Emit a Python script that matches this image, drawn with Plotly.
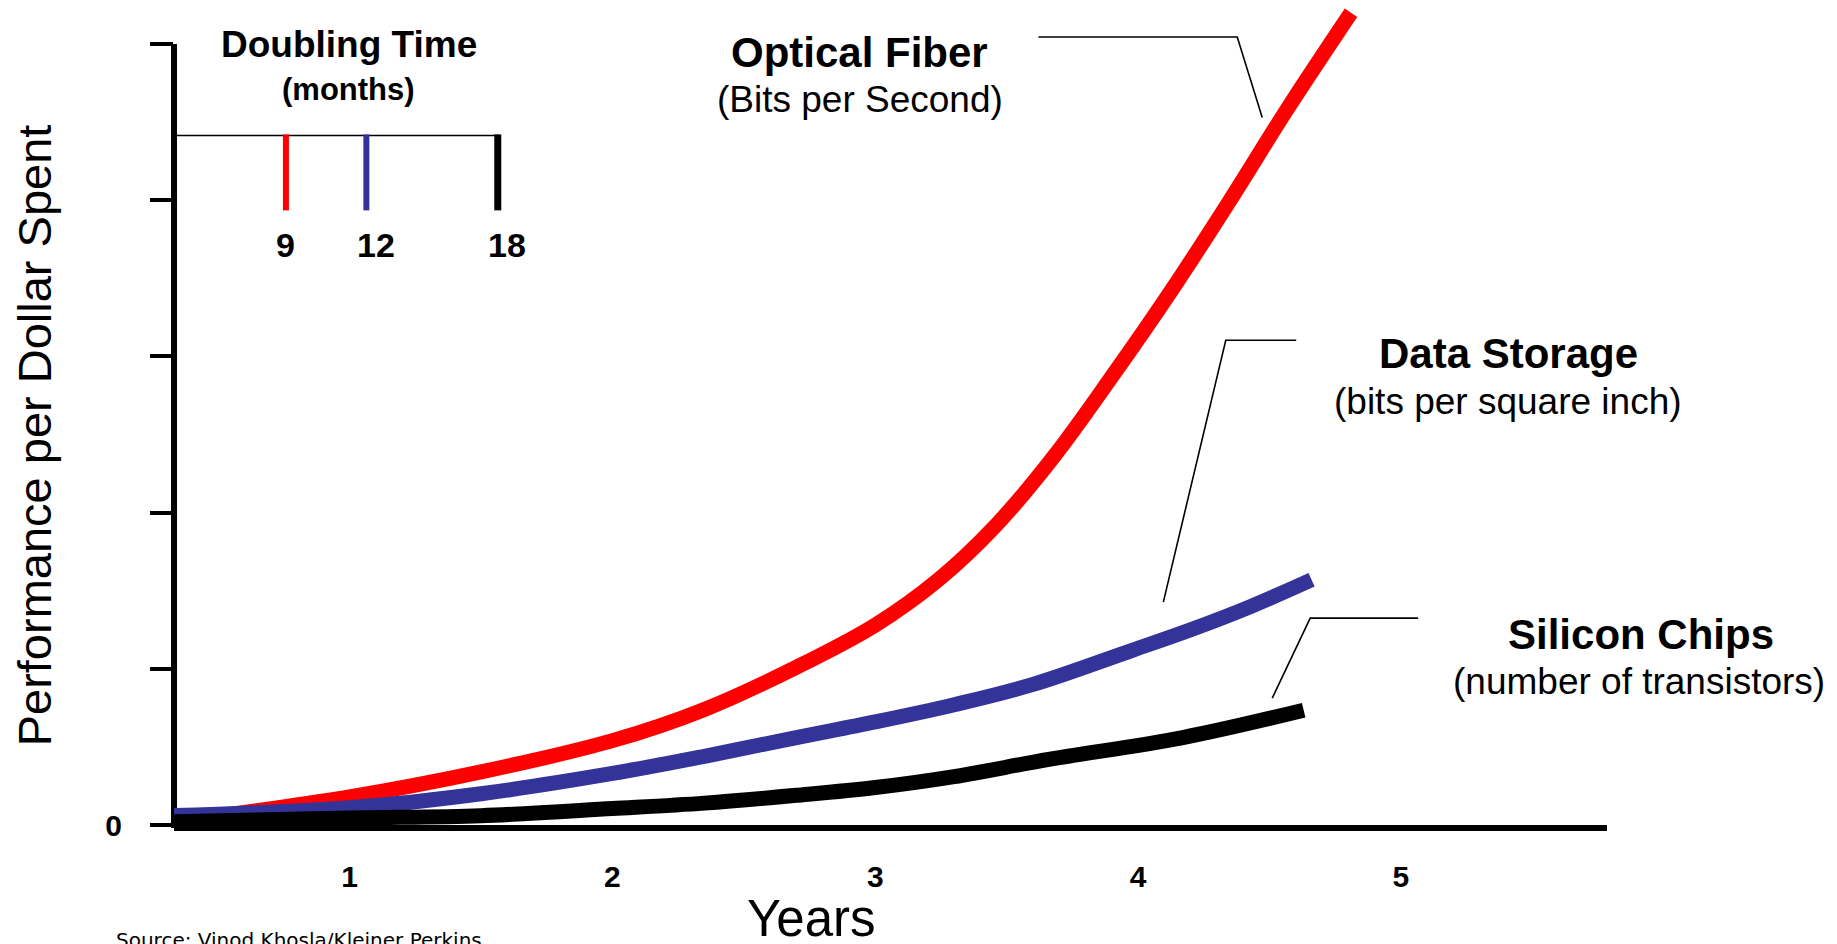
import plotly.graph_objects as go

# ---------------- data ----------------
years_fiber = [0.33, 1.0, 1.5, 2.0, 2.35, 2.7, 3.0, 3.24, 3.46, 3.68, 3.9, 4.13, 4.35, 4.57, 4.81]
perf_fiber = [0.02, 0.18, 0.34, 0.54, 0.74, 1.01, 1.28, 1.57, 1.92, 2.36, 2.87, 3.43, 4.00, 4.59, 5.20]

years_storage = [0.33, 1.0, 1.5, 2.0, 2.35, 2.7, 3.0, 3.3, 3.6, 3.98, 4.2, 4.43, 4.66]
perf_storage = [0.06, 0.11, 0.20, 0.33, 0.44, 0.56, 0.66, 0.77, 0.90, 1.12, 1.25, 1.40, 1.57]

years_chips = [0.33, 1.0, 1.5, 2.0, 2.35, 2.7, 3.0, 3.3, 3.66, 4.17, 4.63]
perf_chips = [0.02, 0.045, 0.06, 0.105, 0.14, 0.19, 0.24, 0.31, 0.42, 0.56, 0.735]

x_tick_vals = [1, 2, 3, 4, 5]
x_tick_text = ["1", "2", "3", "4", "5"]
y_tick_vals = [0, 1, 2, 3, 4, 5]
y_tick_text = ["0", "", "", "", "", ""]

series_names = ["Optical Fiber", "Data Storage", "Silicon Chips"]
series_units = ["(Bits per Second)", "(bits per square inch)", "(number of transistors)"]
doubling_months = ["9", "12", "18"]

RED = "#ff0000"
BLUE = "#333399"
BLACK = "#000000"
FONT = "Liberation Sans, Arial, sans-serif"

# ---------------- geometry ----------------
W, H = 1837, 944
OX, OY = -7.5, -8.5          # global offset applied to every pixel position below
L, R, T, B = 173 + OX, 1607 + OX, 0, 826 + OY
XR = [0.332, 5.784]
YR = [0, (B - T) / 156.3]


def xp(px):
    return (px + OX - L) / (R - L)


def yp(py):
    return (B - (py + OY)) / (B - T)


def yval_paper(v):
    return (v - YR[0]) / (YR[1] - YR[0])


fig = go.Figure()
for xs, ys, col, name in [
    (years_fiber, perf_fiber, RED, series_names[0]),
    (years_storage, perf_storage, BLUE, series_names[1]),
    (years_chips, perf_chips, BLACK, series_names[2]),
]:
    fig.add_trace(go.Scatter(x=xs, y=ys, mode="lines", name=name,
                             line=dict(color=col, width=15, shape="spline", smoothing=1.0),
                             hoverinfo="skip", showlegend=False))

shapes = []
# y axis line (0 .. 5)
shapes.append(dict(type="line", xref="paper", yref="paper",
                   x0=xp(173), x1=xp(173), y0=yp(829), y1=yval_paper(5),
                   line=dict(color=BLACK, width=6), layer="below"))

# doubling-time inset
shapes.append(dict(type="line", xref="paper", yref="paper",
                   x0=xp(173), x1=xp(499), y0=yp(136), y1=yp(136),
                   line=dict(color=BLACK, width=1.5)))
for xpx, col, w in [(285, RED, 6), (365.5, BLUE, 6), (497, BLACK, 7)]:
    shapes.append(dict(type="line", xref="paper", yref="paper",
                       x0=xp(xpx), x1=xp(xpx), y0=yp(135), y1=yp(211),
                       line=dict(color=col, width=w)))

# leader lines
for pts in [
    [(1038, 37.5), (1237, 37.5), (1262, 118)],
    [(1296, 341), (1225.5, 341), (1163, 603)],
    [(1418, 619), (1310, 619), (1272, 699)],
]:
    path = "M " + " L ".join(f"{xp(a):.5f},{yp(b):.5f}" for a, b in pts)
    shapes.append(dict(type="path", xref="paper", yref="paper", path=path,
                       line=dict(color=BLACK, width=1.6)))

ann = []


def text(x, y, s, size, bold=False, angle=0, xanchor="center", yanchor="middle", family=FONT):
    ann.append(dict(xref="paper", yref="paper", x=xp(x), y=yp(y), text=(f"<b>{s}</b>" if bold else s),
                    showarrow=False, font=dict(family=family, size=size, color=BLACK),
                    textangle=angle, xanchor=xanchor, yanchor=yanchor))


text(348, 45, "Doubling Time", 37, bold=True)
text(348, 90, "(months)", 31, bold=True)
for xpx, s in zip([285, 375, 506], doubling_months):
    text(xpx, 246, s, 34, bold=True)

text(859, 53, series_names[0], 42, bold=True)
text(859, 100, series_units[0], 37)
text(1508, 354, series_names[1], 42, bold=True)
text(1508, 402, series_units[1], 37)
text(1641, 635, series_names[2], 42, bold=True)
text(1639, 682, series_units[2], 37)

text(811, 920, "Years", 51)
text(33, 436, "Performance per Dollar Spent", 47, angle=-90)
text(113, 941, "Source: Vinod Khosla/Kleiner Perkins", 20, xanchor="left",
     family="DejaVu Sans, Verdana, sans-serif")

fig.update_layout(
    width=W, height=H,
    margin=dict(l=L, r=W - R, t=T, b=H - B, pad=0),
    paper_bgcolor="white", plot_bgcolor="rgba(0,0,0,0)",
    shapes=shapes, annotations=ann,
    xaxis=dict(range=XR, showgrid=False, zeroline=False, showline=True, linecolor=BLACK, linewidth=6,
               tickvals=x_tick_vals, ticktext=[f"<b>{t}</b>" for t in x_tick_text], ticks="",
               tickfont=dict(family=FONT, size=30, color=BLACK), ticklabelstandoff=20, fixedrange=True),
    yaxis=dict(range=YR, showgrid=False, zeroline=False, showline=False,
               tickvals=y_tick_vals, ticktext=[f"<b>{t}</b>" if t else "" for t in y_tick_text],
               ticks="outside", ticklen=23, tickwidth=4, tickcolor=BLACK,
               tickfont=dict(family=FONT, size=30, color=BLACK), ticklabelstandoff=22, fixedrange=True),
    showlegend=False,
)

fig.write_html("out.html", config={"displayModeBar": False})
